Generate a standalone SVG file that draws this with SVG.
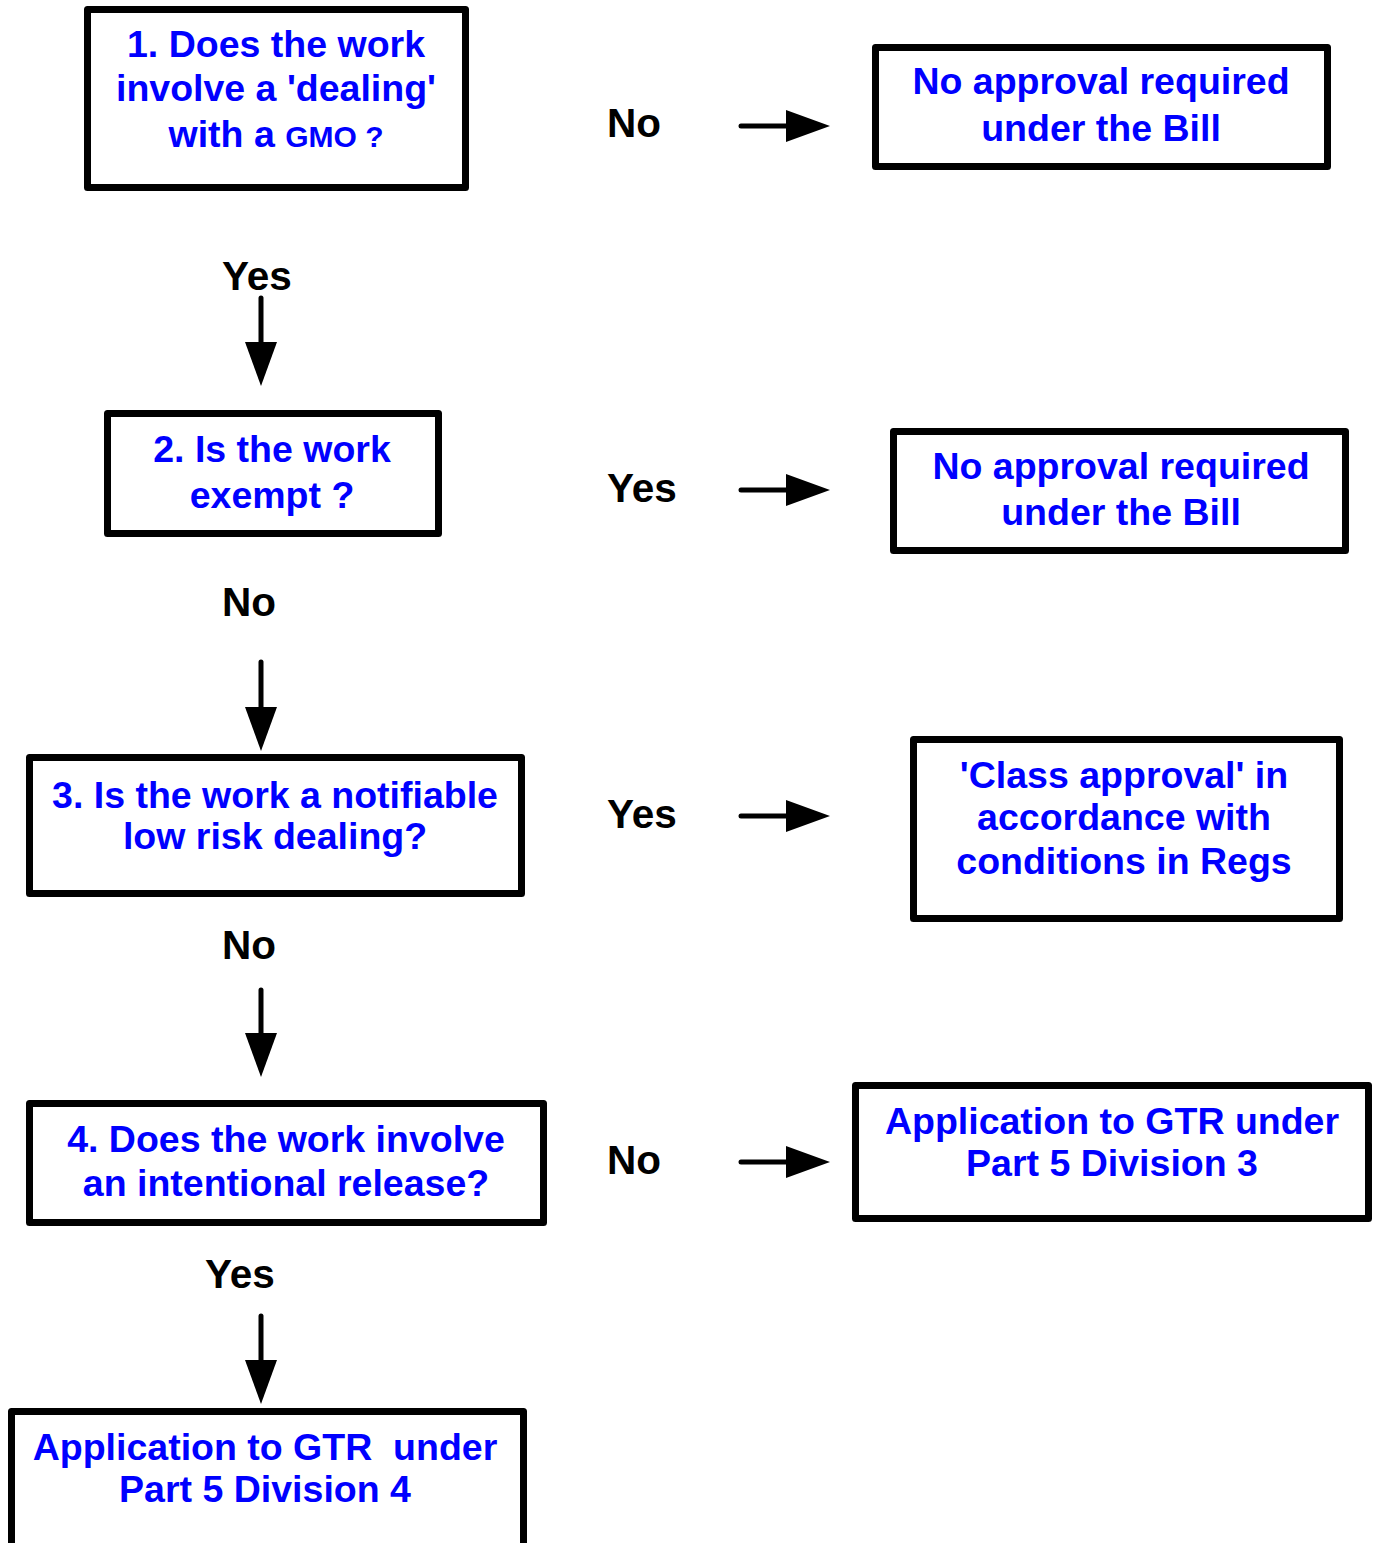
<svg xmlns="http://www.w3.org/2000/svg" width="1378" height="1543" viewBox="0 0 1378 1543">
<defs>
<style>
.box{fill:#fff;stroke:#000;stroke-width:7;stroke-linejoin:round}
.t{font-family:"Liberation Sans",Arial,sans-serif;font-weight:bold;font-size:37.5px;fill:#0000ff;text-anchor:middle}
.s{font-size:30px}
.lbl{font-family:"Liberation Sans",Arial,sans-serif;font-weight:bold;font-size:40.5px;fill:#000}
.ln{stroke:#000;stroke-width:5;stroke-linecap:round;fill:none}
</style>
<marker id="ah" markerUnits="userSpaceOnUse" markerWidth="46" markerHeight="32" refX="12" refY="16" orient="auto" overflow="visible">
<path d="M0,0 L44,16 L0,32 Z" fill="#000"/>
</marker>
</defs>
<rect width="1378" height="1543" fill="#fff"/>
<g id="connectors">
<path class="ln" d="M741,126 H798" marker-end="url(#ah)"/>
<path class="ln" d="M741,490 H798" marker-end="url(#ah)"/>
<path class="ln" d="M741,816 H798" marker-end="url(#ah)"/>
<path class="ln" d="M741,1162 H798" marker-end="url(#ah)"/>
<path class="ln" d="M261,298 V354" marker-end="url(#ah)"/>
<path class="ln" d="M261,662 V719" marker-end="url(#ah)"/>
<path class="ln" d="M261,990 V1045" marker-end="url(#ah)"/>
<path class="ln" d="M261,1316 V1372" marker-end="url(#ah)"/>
<text class="lbl" x="607" y="137">No</text>
<text class="lbl" x="607" y="502">Yes</text>
<text class="lbl" x="607" y="828">Yes</text>
<text class="lbl" x="607" y="1174">No</text>
<text class="lbl" x="222" y="290">Yes</text>
<text class="lbl" x="222" y="616">No</text>
<text class="lbl" x="222" y="959">No</text>
<text class="lbl" x="205" y="1288">Yes</text>
</g>
<g id="q1">
<rect class="box" x="87.5" y="9.5" width="378" height="178"/>
<text class="t" x="276" y="57">1. Does the work</text>
<text class="t" x="276" y="101">involve a 'dealing'</text>
<text class="t" x="276" y="147">with a <tspan class="s">GMO ?</tspan></text>
</g>
<g id="r1">
<rect class="box" x="875.5" y="47.5" width="452" height="119"/>
<text class="t" x="1101" y="94">No approval required</text>
<text class="t" x="1101" y="141">under the Bill</text>
</g>
<g id="q2">
<rect class="box" x="107.5" y="413.5" width="331" height="120"/>
<text class="t" x="272" y="462">2. Is the work</text>
<text class="t" x="272" y="508">exempt ?</text>
</g>
<g id="r2">
<rect class="box" x="893.5" y="431.5" width="452" height="119"/>
<text class="t" x="1121" y="479">No approval required</text>
<text class="t" x="1121" y="525">under the Bill</text>
</g>
<g id="q3">
<rect class="box" x="29.5" y="757.5" width="492" height="136"/>
<text class="t" x="275" y="808">3. Is the work a notifiable</text>
<text class="t" x="275" y="849">low risk dealing?</text>
</g>
<g id="r3">
<rect class="box" x="913.5" y="739.5" width="426" height="179"/>
<text class="t" x="1124" y="788">'Class approval' in</text>
<text class="t" x="1124" y="830">accordance with</text>
<text class="t" x="1124" y="874">conditions in Regs</text>
</g>
<g id="q4">
<rect class="box" x="29.5" y="1103.5" width="514" height="119"/>
<text class="t" x="286" y="1152">4. Does the work involve</text>
<text class="t" x="286" y="1196">an intentional release?</text>
</g>
<g id="r4">
<rect class="box" x="855.5" y="1085.5" width="513" height="133"/>
<text class="t" x="1112" y="1134">Application to GTR under</text>
<text class="t" x="1112" y="1176">Part 5 Division 3</text>
</g>
<g id="r5">
<rect class="box" x="11.5" y="1411.5" width="512" height="150"/>
<text class="t" x="265" y="1460">Application to GTR&#160; under</text>
<text class="t" x="265" y="1502">Part 5 Division 4</text>
</g>
</svg>
